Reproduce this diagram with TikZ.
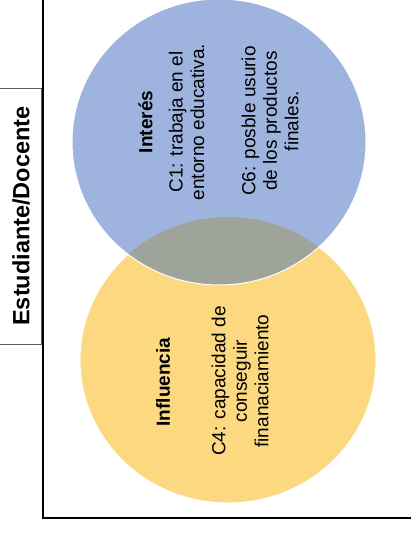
\documentclass[tikz,border=0pt]{standalone}
\usepackage{fontspec}
\setmainfont{Liberation Sans}
\definecolor{vblue}{RGB}{158,180,222}
\definecolor{vyellow}{RGB}{252,217,128}
\definecolor{vgray}{RGB}{159,164,155}
\definecolor{boxgray}{RGB}{90,90,90}
\tikzset{
  txt/.style={inner sep=0pt, rotate=90, align=center, font=\fontsize{19}{21.5}\selectfont},
  ttl/.style={inner sep=0pt, rotate=90, align=center, font=\fontsize{19}{21.5}\selectfont\bfseries},
  lbl/.style={inner sep=0pt, rotate=90, font=\fontsize{23.5}{26}\selectfont\bfseries},
  axis/.style={line width=1.6pt, black},
  outl/.style={draw=white, line width=1pt}
}
\begin{document}
\begin{tikzpicture}[x=1pt,y=-1pt]
\useasboundingbox (0,0) rectangle (411,539);
% yellow circle
\fill[vyellow] (228,360) ellipse [x radius=148, y radius=143];
\draw[outl] (228,360) ellipse [x radius=148, y radius=143];
% blue circle
\fill[vblue] (219,142) ellipse [x radius=147, y radius=143];
\begin{scope}
  \clip (219,142) ellipse [x radius=147, y radius=143];
  \fill[vgray] (228,360) ellipse [x radius=148, y radius=143];
\end{scope}
\draw[outl] (219,142) ellipse [x radius=147, y radius=143];
% axes
\coordinate (top) at (43,0);
\coordinate (corner) at (43,518);
\coordinate (right) at (411,518);
\draw[axis] (top) -- (corner) -- (right);
% label box
\draw[boxgray, line width=0.8pt] (0,88) -- (41,88) -- (41,344) -- (0,344);
\node[lbl] (role) at (21,216) {Estudiante/Docente};
% blue texts
\node[ttl] (interes) at (145.5,122) {Interés};
\node[txt] (c1) at (186.5,122) {C1: trabaja en el\\entorno educativa.};
\node[txt] (c6) at (270,121) {C6: posble usurio\\de los productos\\finales.};
% yellow texts
\node[ttl] (influencia) at (163,382) {Influencia};
\node[txt] (c4) at (240,381) {C4: capacidad de\\conseguir\\finanaciamiento};
\end{tikzpicture}
\end{document}
